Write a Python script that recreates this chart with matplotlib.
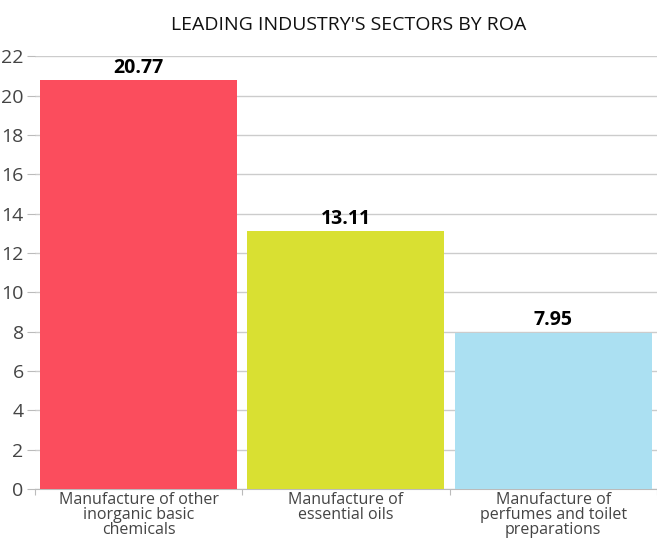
import numpy as np
import matplotlib
matplotlib.use("Agg")
import matplotlib.pyplot as plt

plt.rcParams['font.family'] = ['Open Sans', 'DejaVu Sans']

categories = ["Manufacture of other\ninorganic basic\nchemicals",
              "Manufacture of\nessential oils",
              "Manufacture of\nperfumes and toilet\npreparations"]
values = [20.77, 13.11, 7.95]
colors = ["#FB4D5D", "#D9E032", "#ABE0F2"]
yticks = list(range(0, 23, 2))

fig = plt.figure(figsize=(6.57, 5.46), dpi=100)
ax = fig.add_axes([0.053, 0.104, 0.947, 0.793])
ax.set_axisbelow(True)

x = np.arange(len(values))
ax.bar(x, values, width=0.95, color=colors, zorder=3)
for xi, v in zip(x, values):
    ax.text(xi, v + 0.12, f"{v:.2f}", ha='center', va='bottom',
            fontsize=14, fontweight='bold', color='black', zorder=4)

ax.set_xlim(-0.5, len(values) - 0.5)
ax.set_ylim(0, 22)
ax.set_yticks(yticks)
ax.set_yticklabels([str(t) for t in yticks], fontsize=14, color='#444444')
ax.yaxis.grid(True, color='#CCCCCC', linewidth=1, zorder=0)

# category labels between boundary ticks
ax.set_xticks(np.arange(len(values) + 1) - 0.5)
ax.set_xticklabels([])
ax.set_xticks(x, minor=True)
ax.set_xticklabels(categories, minor=True, fontsize=11.5, color='#444444',
                   linespacing=0.9)
ax.tick_params(axis='x', which='minor', length=0, pad=2)
ax.tick_params(axis='x', which='major', length=4, color='#BBBBBB')
ax.tick_params(axis='y', length=6, color='#BBBBBB', pad=2)

for s in ['top', 'right', 'left']:
    ax.spines[s].set_visible(False)
ax.spines['bottom'].set_color('#BBBBBB')

fig.text(0.53, 0.955, "LEADING INDUSTRY'S SECTORS BY ROA", ha='center',
         va='center', fontsize=14, color='#111111')

fig.savefig("out.png", dpi=100)
